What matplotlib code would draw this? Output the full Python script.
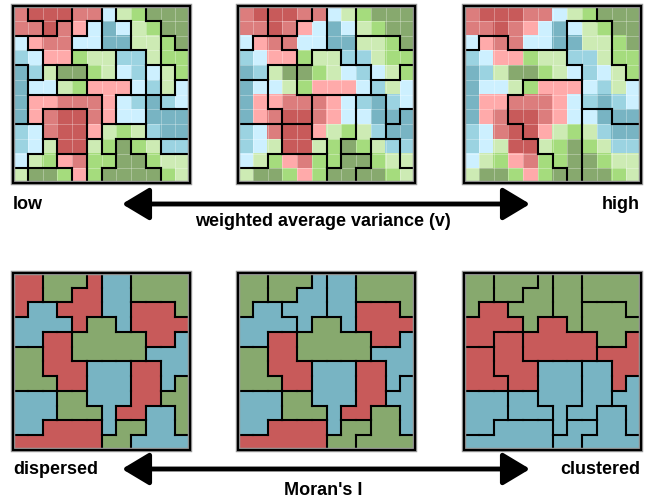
import numpy as np
import matplotlib.pyplot as plt
from matplotlib.collections import LineCollection
from matplotlib.colors import to_rgb

# shade codes: R/r/p = dark/medium/light red, B/b/c = blues, G/g/l = greens
shade = {
    'R': '#c85a5a', 'r': '#dc7d7d', 'p': '#ffaaaa',
    'B': '#78b4c3', 'b': '#9bd3e1', 'c': '#cdf0ff',
    'G': '#87a96e', 'g': '#a5dc7d', 'l': '#cdebb4',
}

# attribute surface shared by the three top maps
cells = [
    "rRRRrrclgGGG",
    "rrRrpcBclgGG",
    "cprrccBBllgG",
    "bcppgllbblgg",
    "BblGGglcbclg",
    "Bcclgpppcblc",
    "BpprrrpcbBbc",
    "BprRRrpccBBB",
    "bcrRRplglbBB",
    "bclRRlgGglbb",
    "clgprggGGgll",
    "lGGgpgGGGGgl",
]

# zone layouts (one letter per zone)
zones_low = [
    "abbbcceffggg",
    "aabhcdeeffgg",
    "qhhhddeeffkg",
    "qqhhxxxmmfkk",
    "squwwxxmmnok",
    "suuyyzzzmnop",
    "sAAAAAzDDEpp",
    "sABBBAzDDEEE",
    "ttBBBAGGGEEE",
    "ttKBBIGHJJFF",
    "tKKMMIIHHJJJ",
    "KLLLMIHHHHJJ",
]

zones_moran = [
    "AABBBCEEFFFF",
    "AABBCCEEFFFF",
    "AHHCCCEEGGGF",
    "HHHHCDDEGGGG",
    "HHIIDDDDDGGK",
    "JJIIDDDDDKKK",
    "JJIIILLLMMKK",
    "JJJIILLLMMKN",
    "PPPQQLLLMMNN",
    "PPPQQQLMMTTN",
    "PPRRRRLSSTTN",
    "RRRRRRSSTTTT",
]
zones_mid = zones_moran

zones_high = [
    "AAAAAAAAATTT",
    "AAAAAAAMMMTT",
    "ALLAAAAMMMTT",
    "LLLLLLLMMMTT",
    "LLLLLLLLMMMT",
    "LLLLCCCCMMMM",
    "LLLCCCCCMMMM",
    "LLLCCCCCSSMM",
    "LLLLCCCCSSSS",
    "LLLLLCCCSSSS",
    "LLLLLLCCSSSS",
    "LLLLLLLCSSSS",
]

zone_colours = {
    'dispersed': {'A': 'R', 'B': 'G', 'C': 'R', 'D': 'G', 'E': 'B', 'F': 'G', 'G': 'R',
                  'H': 'B', 'I': 'R', 'J': 'G', 'K': 'B', 'L': 'B', 'M': 'R', 'N': 'G',
                  'P': 'B', 'Q': 'G', 'R': 'R', 'S': 'G', 'T': 'B'},
    'random': {'A': 'G', 'B': 'G', 'C': 'B', 'D': 'G', 'E': 'B', 'F': 'G', 'G': 'R',
               'H': 'B', 'I': 'R', 'J': 'G', 'K': 'B', 'L': 'B', 'M': 'R', 'N': 'B',
               'P': 'B', 'Q': 'G', 'R': 'R', 'S': 'G', 'T': 'G'},
    'clustered': {'A': 'G', 'B': 'G', 'C': 'G', 'D': 'R', 'E': 'G', 'F': 'G', 'G': 'G',
                  'H': 'R', 'I': 'R', 'J': 'R', 'K': 'R', 'L': 'B', 'M': 'B', 'N': 'B',
                  'P': 'B', 'Q': 'B', 'R': 'B', 'S': 'B', 'T': 'B'},
}

N = 12
SIZE = 176.7
col_x = [13.3, 238.3, 464.3]
top_y = 7.3
bot_y = 274.0

fig = plt.figure(figsize=(6.46, 5.02), dpi=100)
ax = fig.add_axes([0, 0, 1, 1])
ax.set_xlim(0, 646)
ax.set_ylim(502, 0)
ax.axis('off')


def zone_edges(zones, x0, y0):
    h = SIZE / N
    segs = []
    for r in range(N):
        for c in range(N):
            if c < N - 1 and zones[r][c] != zones[r][c + 1]:
                segs.append([(x0 + (c + 1) * h, y0 + r * h), (x0 + (c + 1) * h, y0 + (r + 1) * h)])
            if r < N - 1 and zones[r][c] != zones[r + 1][c]:
                segs.append([(x0 + c * h, y0 + (r + 1) * h), (x0 + (c + 1) * h, y0 + (r + 1) * h)])
    return segs


def draw_map(codes, zones, x0, y0, faint=True):
    img = np.array([[to_rgb(shade[k]) for k in row] for row in codes])
    ax.imshow(img, extent=(x0, x0 + SIZE, y0 + SIZE, y0), interpolation='nearest', zorder=1)
    if faint:
        h = SIZE / N
        grid = [[(x0 + i * h, y0), (x0 + i * h, y0 + SIZE)] for i in range(1, N)]
        grid += [[(x0, y0 + i * h), (x0 + SIZE, y0 + i * h)] for i in range(1, N)]
        ax.add_collection(LineCollection(grid, colors='white', linewidths=0.6, alpha=0.35, zorder=2))
    ax.add_collection(LineCollection(zone_edges(zones, x0, y0), colors='black',
                                     linewidths=1.5, capstyle='projecting', zorder=3))
    ax.add_patch(plt.Rectangle((x0, y0), SIZE, SIZE, fill=False, ec='#9a9a9a', lw=3.2, zorder=3))
    ax.add_patch(plt.Rectangle((x0, y0), SIZE, SIZE, fill=False, ec='black', lw=1.6, zorder=4))


for x0, zones in zip(col_x, [zones_low, zones_mid, zones_high]):
    draw_map(cells, zones, x0, top_y)

for x0, key in zip(col_x, ['dispersed', 'random', 'clustered']):
    codes = [''.join(zone_colours[key][z] for z in row) for row in zones_moran]
    draw_map(codes, zones_moran, x0, bot_y, faint=False)

font = dict(family='Liberation Sans', weight='bold', size=13, color='black')


def scale_arrow(y, left, right, caption, gap):
    ax.annotate('', xy=(530, y), xytext=(122, y),
                arrowprops=dict(arrowstyle='<|-|>,head_length=0.75,head_width=0.45',
                                lw=3.5, color='black', mutation_scale=22, shrinkA=0, shrinkB=0))
    ax.text(13, y, left, ha='left', va='center', **font)
    ax.text(640, y, right, ha='right', va='center', **font)
    ax.text(323, y + gap, caption, ha='center', va='center', **font)


scale_arrow(205, 'low', 'high', 'weighted average variance (v)', 17)
scale_arrow(470, 'dispersed', 'clustered', "Moran's I", 21)

fig.savefig('out.png', dpi=100)
